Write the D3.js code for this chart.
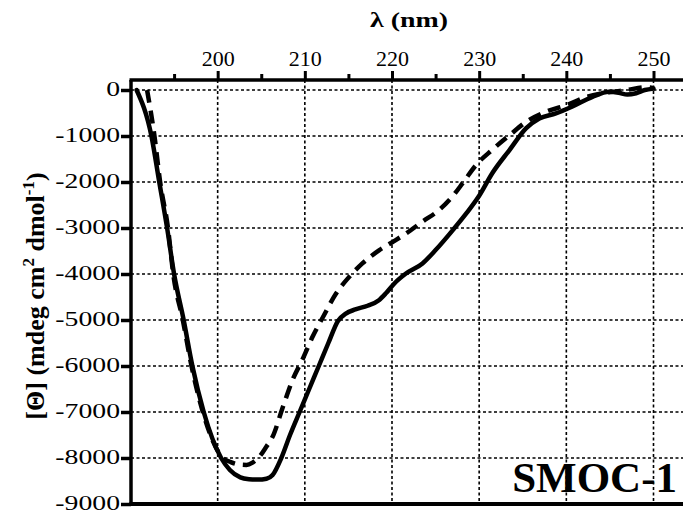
<html>
<head>
<script src="https://cdnjs.cloudflare.com/ajax/libs/d3/7.8.5/d3.min.js"></script>
  <meta charset="utf-8">
  <title>SMOC-1 CD spectrum</title>
  <style>
    body { margin: 0; background: #fff; }
    text { font-family: "Liberation Serif", serif; }
  </style>
</head>
<body>
	<script type="text/javascript">

		// size
		var w = 683;
		var h = 514;

		// data (wavelength nm, ellipticity)
		var solidWave = [190.7, 192.4, 193.3, 194.2, 195.0, 196.1, 197.1, 198.4, 200.4, 201.4, 202.6, 203.6,
			204.6, 205.6, 206.3, 207.3, 208.3, 209.4, 210.5, 211.6, 212.7, 213.8, 214.7, 215.8, 217.2, 218.5,
			219.3, 220.3, 221.6, 223.5, 225.0, 227.0, 228.5, 230.0, 231.5, 233.5, 235.4, 236.9, 238.8, 240.7,
			243.0, 244.9, 246.0, 247.0, 248.0, 249.0, 250.0];
		var solidVal = [0, -1000, -2000, -3000, -4000, -5000, -6000, -7000, -8000, -8260, -8420, -8460,
			-8470, -8450, -8370, -8000, -7500, -7000, -6500, -6000, -5500, -5020, -4860, -4770, -4690, -4570,
			-4420, -4200, -3990, -3770, -3480, -3040, -2690, -2300, -1810, -1300, -830, -620, -510, -360,
			-150, -40, -60, -100, -70, 0, 30];

		var dashWave = [191.9, 192.75, 193.4, 194.3, 194.9, 196.0, 197.0, 198.3, 200.6, 201.5, 202.4, 203.3,
			204.0, 204.8, 205.6, 206.3, 207.5, 208.6, 209.8, 210.9, 212.1, 213.6, 215.1, 216.6, 218.55, 220.1,
			221.6, 223.5, 225.4, 227.0, 228.2, 229.6, 231.5, 233.5, 235.4, 237.7, 240.0, 242.3, 244.6, 246.9,
			249.2, 250.0];
		var dashVal = [0, -1000, -2000, -3000, -4000, -5000, -6000, -7000, -8000, -8090, -8140, -8150,
			-8100, -7970, -7750, -7540, -6880, -6300, -5830, -5360, -4930, -4420, -4060, -3770, -3480, -3300,
			-3120, -2860, -2610, -2300, -2000, -1640, -1300, -980, -690, -470, -330, -150, -60, 0,
			60, 40];

		var xMajor = [200, 210, 220, 230, 240, 250];
		var xMinor = [195, 205, 215, 225, 235, 245];
		var yTicks = [0, -1000, -2000, -3000, -4000, -5000, -6000, -7000, -8000, -9000];
		var yGrid = [0, -1000, -2000, -3000, -4000, -5000, -6000, -7000, -8000];

		var plotLeft = 131, plotTop = 80, plotBottom = 504;

		var x = d3.scaleLinear().domain([190, 250]).range([130.5, 653.5]);
		var y = d3.scaleLinear().domain([0, -9000]).range([90, 504]);

		var svg = d3.select("body")
					.append("svg")
					.attr("width", w)
					.attr("height", h);

		// dotted grid
		svg.append("g")
			.selectAll("line")
			.data(yGrid)
			.enter()
			.append("line")
			.attr("x1", plotLeft)
			.attr("x2", w)
			.attr("y1", function(d) { return y(d); })
			.attr("y2", function(d) { return y(d); })
			.attr("stroke", "#000")
			.attr("stroke-width", 1.6)
			.attr("stroke-dasharray", "3,2.5");

		svg.append("g")
			.selectAll("line")
			.data(xMajor)
			.enter()
			.append("line")
			.attr("x1", function(d) { return x(d); })
			.attr("x2", function(d) { return x(d); })
			.attr("y1", plotTop)
			.attr("y2", plotBottom)
			.attr("stroke", "#000")
			.attr("stroke-width", 1.6)
			.attr("stroke-dasharray", "3,2.5");

		// curves
		var line = d3.line()
			.x(function(d) { return x(d[0]); })
			.y(function(d) { return y(d[1]); })
			.curve(d3.curveMonotoneX);

		svg.append("path")
			.datum(dashWave.map(function(d, i) { return [d, dashVal[i]]; }))
			.attr("d", line)
			.attr("fill", "none")
			.attr("stroke", "#000")
			.attr("stroke-width", 4.5)
			.attr("stroke-dasharray", "13,8");

		svg.append("path")
			.datum(solidWave.map(function(d, i) { return [d, solidVal[i]]; }))
			.attr("d", line)
			.attr("fill", "none")
			.attr("stroke", "#000")
			.attr("stroke-width", 4.5)
			.attr("stroke-linecap", "round");

		// axes
		var topAxis = svg.append("g")
			.attr("transform", "translate(0," + plotTop + ")")
			.call(d3.axisTop(x).tickValues(xMajor).tickSize(9).tickPadding(5).tickFormat(d3.format("d")));
		topAxis.select(".domain").remove();
		topAxis.selectAll("line").attr("stroke-width", 3);
		topAxis.selectAll("text").attr("font-size", "22px");

		var minorAxis = svg.append("g")
			.attr("transform", "translate(0," + plotTop + ")")
			.call(d3.axisTop(x).tickValues(xMinor).tickSize(6).tickFormat(""));
		minorAxis.select(".domain").remove();
		minorAxis.selectAll("line").attr("stroke-width", 3);

		var leftAxis = svg.append("g")
			.attr("transform", "translate(" + plotLeft + ",0)")
			.call(d3.axisLeft(y).tickValues(yTicks).tickSize(10).tickFormat(d3.format("d")));
		leftAxis.select(".domain").remove();
		leftAxis.selectAll("line").attr("stroke-width", 3.5);
		// labels in the picture are wide, so stretch them sideways
		leftAxis.selectAll("text")
			.attr("font-size", "21px")
			.attr("x", 0)
			.attr("transform", "translate(-11,-1) scale(1.32,1)")
			.text(function(d) { return d === 0 ? "0" : "-" + Math.abs(d); });

		// frame
		svg.append("line").attr("x1", plotLeft - 1.5).attr("x2", w).attr("y1", plotTop).attr("y2", plotTop)
			.attr("stroke", "#000").attr("stroke-width", 3.5);
		svg.append("line").attr("x1", plotLeft).attr("x2", plotLeft).attr("y1", plotTop).attr("y2", plotBottom)
			.attr("stroke", "#000").attr("stroke-width", 3.5);
		svg.append("line").attr("x1", plotLeft - 1.5).attr("x2", w).attr("y1", plotBottom).attr("y2", plotBottom)
			.attr("stroke", "#000").attr("stroke-width", 4);

		// titles
		svg.append("text")
			.attr("x", 370)
			.attr("y", 27)
			.attr("textLength", 78)
			.attr("lengthAdjust", "spacingAndGlyphs")
			.attr("font-size", "22px")
			.attr("font-weight", "bold")
			.text("λ (nm)");

		var ylab = svg.append("text")
			.attr("transform", "translate(44,296) rotate(-90)")
			.attr("text-anchor", "middle")
			.attr("font-size", "26px")
			.attr("font-weight", "bold");
		ylab.append("tspan").text("[Θ] (mdeg cm");
		ylab.append("tspan").attr("dy", -10).attr("font-size", "17px").text("2");
		ylab.append("tspan").attr("dy", 10).text(" dmol");
		ylab.append("tspan").attr("dy", -10).attr("font-size", "17px").text("-1");
		ylab.append("tspan").attr("dy", 10).text(")");

		svg.append("text")
			.attr("x", 677)
			.attr("y", 492)
			.attr("text-anchor", "end")
			.attr("font-size", "43px")
			.attr("font-weight", "bold")
			.text("SMOC-1");
	</script>
</body>
</html>
